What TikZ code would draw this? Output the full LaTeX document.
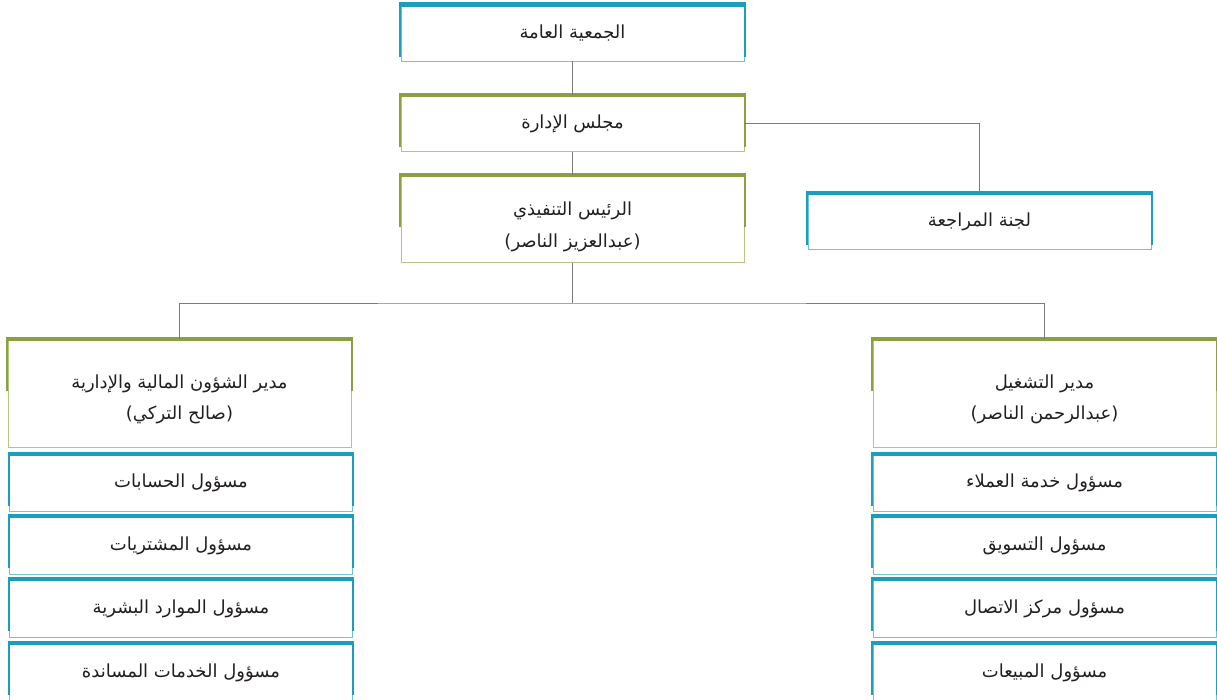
\documentclass[tikz,border=0pt]{standalone}
\usepackage{fontspec}
\newfontfamily\arabicfont[Script=Arabic]{DejaVu Sans}
\TeXXeTstate=1
\usetikzlibrary{calc}
\definecolor{tealc}{HTML}{1A9EBD}
\definecolor{tealL}{HTML}{72C3D6}
\definecolor{olivec}{HTML}{8AA043}
\definecolor{oliveL}{HTML}{B4C67C}
\definecolor{linec}{HTML}{7A7A7A}
\definecolor{textc}{HTML}{231F20}
\tikzset{
  box/.style={draw=#1, line width=0.9pt, fill=white, minimum width=343pt, inner sep=0pt,
    align=center, text=textc, font=\arabicfont\fontsize{18}{31}\selectfont},
  conn/.style={draw=linec, line width=0.9pt},
}
\newcommand{\ar}[1]{\beginR #1\endR}
\begin{document}
\begin{tikzpicture}[x=1pt,y=-1pt]
\useasboundingbox (0,0) rectangle (1217,699);
\clip (0,0) rectangle (1217,699);
% top chain
\node[box=tealL, minimum height=56pt] (ga) at (572.5,33) {\ar{الجمعية العامة}};
\node[box=oliveL, minimum height=56pt] (board) at (572.5,123.5) {\ar{مجلس الإدارة}};
\node[box=oliveL, minimum height=87pt] (ceo) at (572.5,219) {\rule{0pt}{29pt}\ar{الرئيس التنفيذي}\\[1pt]\ar{(عبدالعزيز الناصر)}};
\node[box=tealL, minimum height=56pt] (audit) at (979.5,221.5) {\ar{لجنة المراجعة}};
% managers
\node[box=oliveL, minimum height=108pt] (fin) at (179.5,393.5) {\rule{0pt}{26pt}\ar{مدير الشؤون المالية والإدارية}\\\ar{(صالح التركي)}};
\node[box=oliveL, minimum height=108pt] (ops) at (1044.5,393.5) {\rule{0pt}{26pt}\ar{مدير التشغيل}\\\ar{(عبدالرحمن الناصر)}};
% left subs
\node[box=tealL, minimum height=57pt] (l1) at (181,483) {\ar{مسؤول الحسابات}};
\node[box=tealL, minimum height=58pt] (l2) at (181,545.5) {\ar{مسؤول المشتريات}};
\node[box=tealL, minimum height=58pt] (l3) at (181,608.5) {\ar{مسؤول الموارد البشرية}};
\node[box=tealL, minimum height=58pt] (l4) at (181,672.5) {\ar{مسؤول الخدمات المساندة}};
% right subs
\node[box=tealL, minimum height=57pt] (r1) at (1044.5,483) {\ar{مسؤول خدمة العملاء}};
\node[box=tealL, minimum height=58pt] (r2) at (1044.5,545.5) {\ar{مسؤول التسويق}};
\node[box=tealL, minimum height=58pt] (r3) at (1044.5,608.5) {\ar{مسؤول مركز الاتصال}};
\node[box=tealL, minimum height=58pt] (r4) at (1044.5,672.5) {\ar{مسؤول المبيعات}};
% accents
\foreach \n/\c in {ga/tealc, board/olivec, ceo/olivec, audit/tealc, fin/olivec, ops/olivec,
  l1/tealc, l2/tealc, l3/tealc, l4/tealc, r1/tealc, r2/tealc, r3/tealc, r4/tealc}{
  \draw[\c, line width=2pt] ([xshift=-0.5pt]\n.north west) -- ([xshift=-0.5pt,yshift=-52pt]\n.north west);
  \draw[\c, line width=2pt] ([xshift=0.5pt]\n.north east) -- ([xshift=0.5pt,yshift=-52pt]\n.north east);
  \draw[\c, line width=4.5pt] ([xshift=-1.5pt]\n.north west) -- ([xshift=1.5pt]\n.north east);
}
% connectors
\coordinate (hub) at (572.5,303);
\coordinate (aud) at (979.5,123.5);
\draw[conn] (ga.south) -- (board.north);
\draw[conn] (board.south) -- (ceo.north);
\draw[conn] (board.east) -- (aud) -- (audit.north);
\draw[conn] (ceo.south) -- (hub);
\draw[conn] (fin.north) |- (hub) -| (ops.north);
\end{tikzpicture}
\end{document}
